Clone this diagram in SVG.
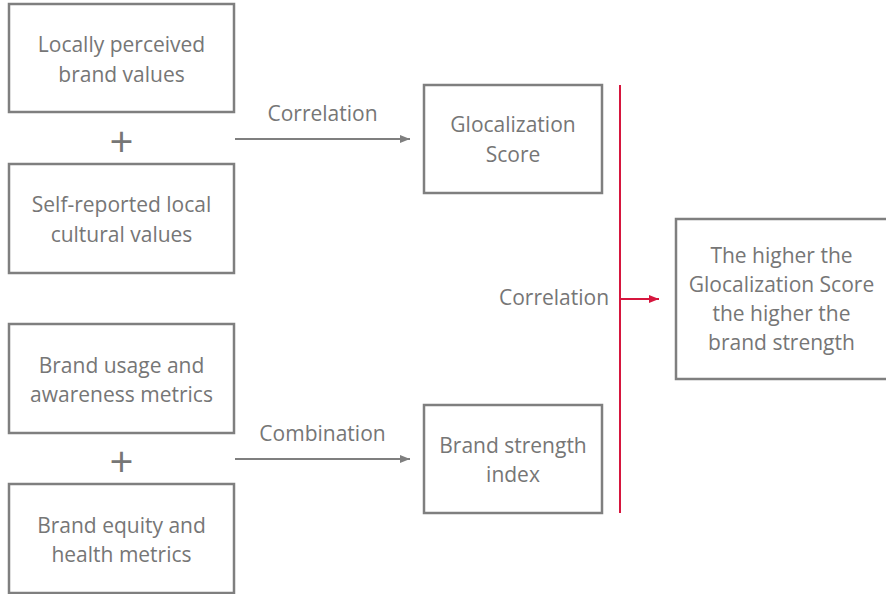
<svg xmlns="http://www.w3.org/2000/svg" width="886" height="594" viewBox="0 0 886 594">
  <style>
    .box { fill: #ffffff; stroke: #7f7f7f; stroke-width: 2.5; }
    .t { font-family: "Open Sans", "Liberation Sans", sans-serif; font-size: 21px; fill: #767676; text-anchor: middle; }
    .plus { font-family: "Open Sans", "Liberation Sans", sans-serif; font-size: 42px; fill: #767676; text-anchor: middle; }
    .conn { fill: none; stroke: #7f7f7f; stroke-width: 2; }
    .red { fill: none; stroke: #d6163e; stroke-width: 2; }
  </style>
  <defs>
    <marker id="arrowGray" viewBox="0 0 10 10" refX="10" refY="5" markerWidth="5" markerHeight="5" orient="auto" markerUnits="strokeWidth">
      <path d="M0,1 L10,5 L0,9 Z" fill="#7f7f7f"/>
    </marker>
    <marker id="arrowRed" viewBox="0 0 10 10" refX="10" refY="5" markerWidth="5" markerHeight="5" orient="auto" markerUnits="strokeWidth">
      <path d="M0,1 L10,5 L0,9 Z" fill="#d6163e"/>
    </marker>
  </defs>

  <!-- left column: input measures -->
  <g id="node-brand-values">
    <rect class="box" x="9" y="4" width="225" height="108"/>
    <text class="t" x="121.5" y="52">Locally perceived</text>
    <text class="t" x="121.5" y="82">brand values</text>
  </g>
  <g id="plus-top">
    <text class="plus" x="121.5" y="157">+</text>
  </g>
  <g id="node-cultural-values">
    <rect class="box" x="9" y="164" width="225" height="109"/>
    <text class="t" x="121.5" y="212">Self-reported local</text>
    <text class="t" x="121.5" y="242">cultural values</text>
  </g>

  <g id="node-usage-metrics">
    <rect class="box" x="9" y="324" width="225" height="109"/>
    <text class="t" x="121.5" y="373">Brand usage and</text>
    <text class="t" x="121.5" y="402">awareness metrics</text>
  </g>
  <g id="plus-bottom">
    <text class="plus" x="121.5" y="477">+</text>
  </g>
  <g id="node-equity-metrics">
    <rect class="box" x="9" y="484" width="225" height="109"/>
    <text class="t" x="121.5" y="533">Brand equity and</text>
    <text class="t" x="121.5" y="562">health metrics</text>
  </g>

  <!-- middle column: derived scores -->
  <g id="node-glocalization-score">
    <rect class="box" x="424" y="85" width="178" height="108"/>
    <text class="t" x="513" y="132">Glocalization</text>
    <text class="t" x="513" y="162">Score</text>
  </g>
  <g id="node-brand-strength">
    <rect class="box" x="424" y="405" width="178" height="108"/>
    <text class="t" x="513" y="453">Brand strength</text>
    <text class="t" x="513" y="482">index</text>
  </g>

  <!-- right column: conclusion -->
  <g id="node-conclusion">
    <rect class="box" x="676" y="219" width="212" height="160"/>
    <text class="t" x="781.5" y="263">The higher the</text>
    <text class="t" x="781.5" y="292">Glocalization Score</text>
    <text class="t" x="781.5" y="321">the higher the</text>
    <text class="t" x="781.5" y="350">brand strength</text>
  </g>

  <g id="connectors">
    <line class="conn" x1="235" y1="139" x2="410" y2="139" marker-end="url(#arrowGray)"/>
    <text class="t" x="322.5" y="121">Correlation</text>
    <line class="conn" x1="235" y1="459" x2="410" y2="459" marker-end="url(#arrowGray)"/>
    <text class="t" x="322.5" y="441">Combination</text>
    <line class="red" x1="620" y1="85" x2="620" y2="513"/>
    <line class="red" x1="620" y1="299" x2="659" y2="299" marker-end="url(#arrowRed)"/>
    <text class="t" x="554" y="305">Correlation</text>
  </g>
</svg>
